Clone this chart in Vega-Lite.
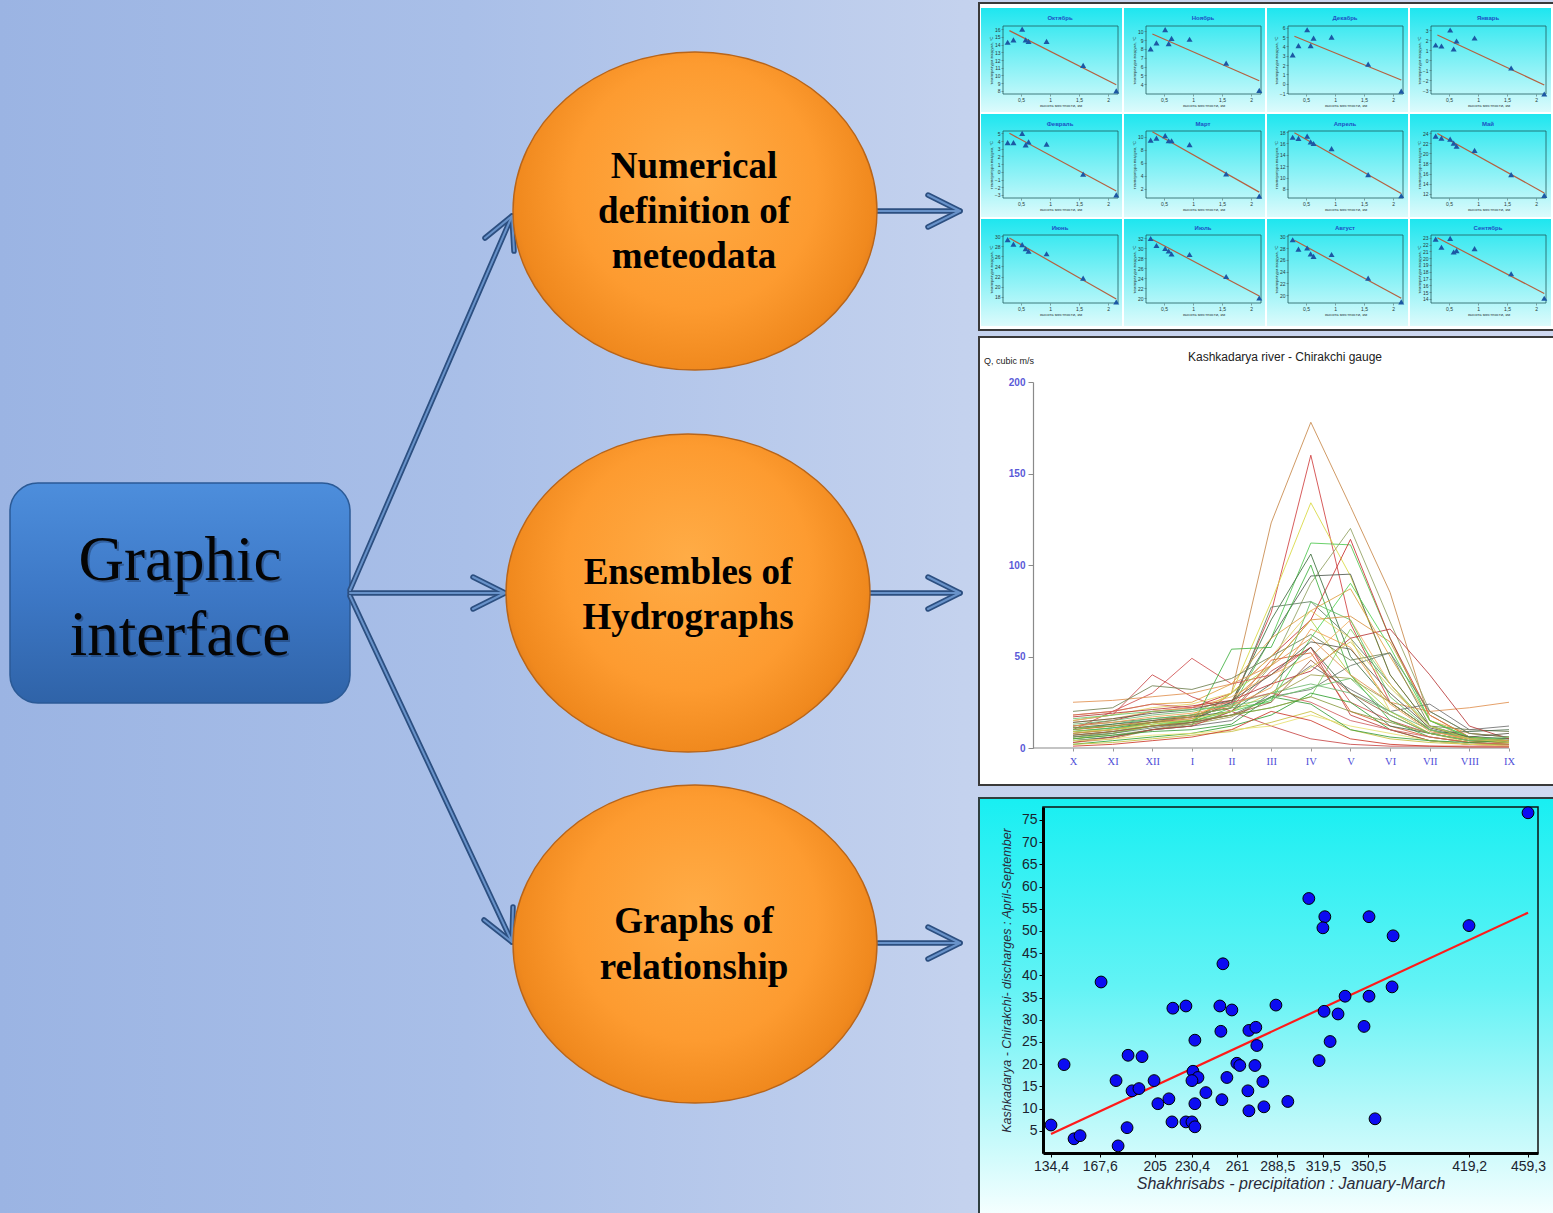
{
"$schema":"https://vega.github.io/schema/vega-lite/v6.json",
"width":1553,"height":1213,"autosize":"none","padding":0,"background":"#b8c9ec",
"config":{"view":{"stroke":null},
 "axis":{"labelFont":"Liberation Sans","labelFontSize":5,"labelColor":"#2a3a3a","labelPadding":1,"tickSize":2,"tickColor":"#4a6a6a","tickWidth":0.6,"domain":false,"grid":false,"titleFont":"Liberation Sans","titleFontSize":4.2,"titleFontWeight":"normal","titleColor":"#2a3a3a","titlePadding":1,"labelFlush":false,"labelOverlap":false}},
"resolve":{"scale":{"x":"independent","y":"independent","color":"independent"},"axis":{"x":"independent","y":"independent"}},
"datasets":{
"bg":[{"x":0,"x2":1553,"y":0,"y2":1213}],
"pw":[{"x":979,"x2":1556,"y":3,"y2":330},{"x":979,"x2":1556,"y":337,"y2":785}],
"ps":[{"x":979,"x2":1556,"y":798,"y2":1216}],
"cells":[{"x":981,"x2":1122,"y":8,"y2":112},{"x":1124,"x2":1265,"y":8,"y2":112},{"x":1267,"x2":1408,"y":8,"y2":112},{"x":1410,"x2":1551,"y":8,"y2":112},{"x":981,"x2":1122,"y":114,"y2":217},{"x":1124,"x2":1265,"y":114,"y2":217},{"x":1267,"x2":1408,"y":114,"y2":217},{"x":1410,"x2":1551,"y":114,"y2":217},{"x":981,"x2":1122,"y":219,"y2":326},{"x":1124,"x2":1265,"y":219,"y2":326},{"x":1267,"x2":1408,"y":219,"y2":326},{"x":1410,"x2":1551,"y":219,"y2":326}],
"frames":[{"x":1003,"x2":1118,"y":26,"y2":94},{"x":1146,"x2":1261,"y":26,"y2":94},{"x":1288,"x2":1403,"y":26,"y2":94},{"x":1431,"x2":1546,"y":26,"y2":94},{"x":1003,"x2":1118,"y":131,"y2":198},{"x":1146,"x2":1261,"y":131,"y2":198},{"x":1288,"x2":1403,"y":131,"y2":198},{"x":1431,"x2":1546,"y":131,"y2":198},{"x":1003,"x2":1118,"y":235,"y2":303},{"x":1146,"x2":1261,"y":235,"y2":303},{"x":1288,"x2":1403,"y":235,"y2":303},{"x":1431,"x2":1546,"y":235,"y2":303}],
"ctit":[{"t":"Октябрь","x":1060,"y":18},{"t":"Ноябрь","x":1203,"y":18},{"t":"Декабрь","x":1345,"y":18},{"t":"Январь","x":1488,"y":18},{"t":"Февраль","x":1060,"y":124},{"t":"Март","x":1203,"y":124},{"t":"Апрель","x":1345,"y":124},{"t":"Май","x":1488,"y":124},{"t":"Июнь","x":1060,"y":228},{"t":"Июль","x":1203,"y":228},{"t":"Август","x":1345,"y":228},{"t":"Сентябрь","x":1488,"y":228}],
"sframe":[{"x":1043,"x2":1538,"y":807,"y2":1153}],
"hline":[{"x":1033,"x2":1509,"y":748}],
"box":[{"x":10,"x2":350,"y":483,"y2":703}],
"boxt":[{"t":"Graphic","x":180,"y":580},{"t":"interface","x":180,"y":655}],
"ell":[{"x":695,"y":211},{"x":688,"y":593},{"x":695,"y":944}],
"ellt":[{"t":"Numerical","x":694,"y":167},{"t":"definition of","x":694,"y":212},{"t":"meteodata","x":694,"y":257},{"t":"Ensembles of","x":688,"y":573},{"t":"Hydrographs","x":688,"y":618},{"t":"Graphs of","x":694,"y":922},{"t":"relationship","x":694,"y":968}],
"arr":[{"g":"a","o":1,"x":350,"y":590},{"g":"a","o":2,"x":512,"y":216},{"g":"b","o":1,"x":350,"y":593},{"g":"b","o":2,"x":505,"y":593},{"g":"c","o":1,"x":350,"y":596},{"g":"c","o":2,"x":512,"y":942},{"g":"d","o":1,"x":877,"y":211},{"g":"d","o":2,"x":960,"y":211},{"g":"e","o":1,"x":870,"y":593},{"g":"e","o":2,"x":960,"y":593},{"g":"f","o":1,"x":878,"y":943},{"g":"f","o":2,"x":960,"y":943},
{"g":"ah","o":1,"x":485,"y":238},{"g":"ah","o":2,"x":512,"y":216},{"g":"ah","o":3,"x":514,"y":251},{"g":"bh","o":1,"x":473,"y":577},{"g":"bh","o":2,"x":505,"y":593},{"g":"bh","o":3,"x":473,"y":609},{"g":"ch","o":1,"x":484,"y":920},{"g":"ch","o":2,"x":512,"y":942},{"g":"ch","o":3,"x":513,"y":907},{"g":"dh","o":1,"x":928,"y":195},{"g":"dh","o":2,"x":960,"y":211},{"g":"dh","o":3,"x":928,"y":227},{"g":"eh","o":1,"x":928,"y":577},{"g":"eh","o":2,"x":960,"y":593},{"g":"eh","o":3,"x":928,"y":609},{"g":"fh","o":1,"x":928,"y":927},{"g":"fh","o":2,"x":960,"y":943},{"g":"fh","o":3,"x":928,"y":959}],
"htit":[{"t":"Kashkadarya river - Chirakchi gauge","x":1285,"y":357}],
"qlab":[{"t":"Q, cubic m/s","x":984,"y":361}],
"kg":[{"h":0.5},{"h":1},{"h":1.5},{"h":2}],
"hg":[{"m":"Oct","t":8},{"m":"Oct","t":9},{"m":"Oct","t":10},{"m":"Oct","t":11},{"m":"Oct","t":12},{"m":"Oct","t":13},{"m":"Oct","t":14},{"m":"Oct","t":15},{"m":"Oct","t":16},
{"m":"Nov","t":4},{"m":"Nov","t":5},{"m":"Nov","t":6},{"m":"Nov","t":7},{"m":"Nov","t":8},{"m":"Nov","t":9},{"m":"Nov","t":10},
{"m":"Dec","t":-1},{"m":"Dec","t":0},{"m":"Dec","t":1},{"m":"Dec","t":2},{"m":"Dec","t":3},{"m":"Dec","t":4},{"m":"Dec","t":5},{"m":"Dec","t":6},
{"m":"Jan","t":-3},{"m":"Jan","t":-2},{"m":"Jan","t":-1},{"m":"Jan","t":0},{"m":"Jan","t":1},{"m":"Jan","t":2},{"m":"Jan","t":3},
{"m":"Feb","t":-3},{"m":"Feb","t":-2},{"m":"Feb","t":-1},{"m":"Feb","t":0},{"m":"Feb","t":1},{"m":"Feb","t":2},{"m":"Feb","t":3},{"m":"Feb","t":4},{"m":"Feb","t":5},
{"m":"Mar","t":2},{"m":"Mar","t":4},{"m":"Mar","t":6},{"m":"Mar","t":8},{"m":"Mar","t":10},
{"m":"Apr","t":8},{"m":"Apr","t":10},{"m":"Apr","t":12},{"m":"Apr","t":14},{"m":"Apr","t":16},{"m":"Apr","t":18},
{"m":"May","t":12},{"m":"May","t":14},{"m":"May","t":16},{"m":"May","t":18},{"m":"May","t":20},{"m":"May","t":22},{"m":"May","t":24},
{"m":"Jun","t":18},{"m":"Jun","t":20},{"m":"Jun","t":22},{"m":"Jun","t":24},{"m":"Jun","t":26},{"m":"Jun","t":28},{"m":"Jun","t":30},
{"m":"Jul","t":20},{"m":"Jul","t":22},{"m":"Jul","t":24},{"m":"Jul","t":26},{"m":"Jul","t":28},{"m":"Jul","t":30},{"m":"Jul","t":32},
{"m":"Aug","t":20},{"m":"Aug","t":22},{"m":"Aug","t":24},{"m":"Aug","t":26},{"m":"Aug","t":28},{"m":"Aug","t":30},
{"m":"Sep","t":14},{"m":"Sep","t":15},{"m":"Sep","t":16},{"m":"Sep","t":17},{"m":"Sep","t":18},{"m":"Sep","t":19},{"m":"Sep","t":20},{"m":"Sep","t":21},{"m":"Sep","t":22},{"m":"Sep","t":23}],
"st":[
{"m":"Oct","h":0.27,"t":14.3},{"m":"Oct","h":0.37,"t":14.6},{"m":"Oct","h":0.52,"t":16.0},{"m":"Oct","h":0.58,"t":14.6},{"m":"Oct","h":0.63,"t":14.4},{"m":"Oct","h":0.94,"t":14.4},{"m":"Oct","h":1.57,"t":11.3},{"m":"Oct","h":2.14,"t":8.0},
{"m":"Nov","h":0.27,"t":8.0},{"m":"Nov","h":0.37,"t":8.7},{"m":"Nov","h":0.52,"t":10.2},{"m":"Nov","h":0.58,"t":8.6},{"m":"Nov","h":0.63,"t":9.2},{"m":"Nov","h":0.94,"t":9.1},{"m":"Nov","h":1.57,"t":6.4},{"m":"Nov","h":2.14,"t":3.3},
{"m":"Dec","h":0.27,"t":3.1},{"m":"Dec","h":0.37,"t":4.1},{"m":"Dec","h":0.52,"t":5.8},{"m":"Dec","h":0.58,"t":4.1},{"m":"Dec","h":0.63,"t":4.9},{"m":"Dec","h":0.94,"t":5.0},{"m":"Dec","h":1.57,"t":2.1},{"m":"Dec","h":2.14,"t":-0.8},
{"m":"Jan","h":0.27,"t":1.5},{"m":"Jan","h":0.37,"t":1.4},{"m":"Jan","h":0.52,"t":3.0},{"m":"Jan","h":0.58,"t":1.1},{"m":"Jan","h":0.63,"t":1.9},{"m":"Jan","h":0.94,"t":2.2},{"m":"Jan","h":1.57,"t":-0.8},{"m":"Jan","h":2.14,"t":-3.4},
{"m":"Feb","h":0.27,"t":3.8},{"m":"Feb","h":0.37,"t":3.8},{"m":"Feb","h":0.52,"t":5.0},{"m":"Feb","h":0.58,"t":3.5},{"m":"Feb","h":0.63,"t":3.9},{"m":"Feb","h":0.94,"t":3.6},{"m":"Feb","h":1.57,"t":-0.3},{"m":"Feb","h":2.14,"t":-3.0},
{"m":"Mar","h":0.27,"t":9.5},{"m":"Mar","h":0.37,"t":9.8},{"m":"Mar","h":0.52,"t":10.2},{"m":"Mar","h":0.58,"t":9.4},{"m":"Mar","h":0.63,"t":9.4},{"m":"Mar","h":0.94,"t":8.8},{"m":"Mar","h":1.57,"t":4.3},{"m":"Mar","h":2.14,"t":0.9},
{"m":"Apr","h":0.27,"t":17.1},{"m":"Apr","h":0.37,"t":16.9},{"m":"Apr","h":0.52,"t":17.3},{"m":"Apr","h":0.58,"t":16.3},{"m":"Apr","h":0.63,"t":16.0},{"m":"Apr","h":0.94,"t":15.1},{"m":"Apr","h":1.57,"t":10.5},{"m":"Apr","h":2.14,"t":6.8},
{"m":"May","h":0.27,"t":23.4},{"m":"May","h":0.37,"t":23.0},{"m":"May","h":0.52,"t":22.8},{"m":"May","h":0.58,"t":22.0},{"m":"May","h":0.63,"t":21.4},{"m":"May","h":0.94,"t":20.6},{"m":"May","h":1.57,"t":15.8},{"m":"May","h":2.14,"t":11.7},
{"m":"Jun","h":0.27,"t":29.3},{"m":"Jun","h":0.37,"t":28.4},{"m":"Jun","h":0.52,"t":28.3},{"m":"Jun","h":0.58,"t":27.5},{"m":"Jun","h":0.63,"t":27.0},{"m":"Jun","h":0.94,"t":26.5},{"m":"Jun","h":1.57,"t":21.7},{"m":"Jun","h":2.14,"t":17.0},
{"m":"Jul","h":0.27,"t":31.9},{"m":"Jul","h":0.37,"t":30.5},{"m":"Jul","h":0.52,"t":29.9},{"m":"Jul","h":0.58,"t":29.4},{"m":"Jul","h":0.63,"t":28.8},{"m":"Jul","h":0.94,"t":28.7},{"m":"Jul","h":1.57,"t":24.3},{"m":"Jul","h":2.14,"t":20.0},
{"m":"Aug","h":0.27,"t":29.4},{"m":"Aug","h":0.37,"t":27.8},{"m":"Aug","h":0.52,"t":28.0},{"m":"Aug","h":0.58,"t":27.0},{"m":"Aug","h":0.63,"t":26.6},{"m":"Aug","h":0.94,"t":26.9},{"m":"Aug","h":1.57,"t":22.9},{"m":"Aug","h":2.14,"t":18.9},
{"m":"Sep","h":0.27,"t":22.8},{"m":"Sep","h":0.37,"t":21.6},{"m":"Sep","h":0.52,"t":22.9},{"m":"Sep","h":0.58,"t":20.9},{"m":"Sep","h":0.63,"t":21.1},{"m":"Sep","h":0.94,"t":21.4},{"m":"Sep","h":1.57,"t":17.7},{"m":"Sep","h":2.14,"t":14.1}],
"tr":[{"m":"Oct","h":0.3,"t":15.8},{"m":"Oct","h":2.14,"t":8.8},{"m":"Nov","h":0.3,"t":9.7},{"m":"Nov","h":2.14,"t":4.4},{"m":"Dec","h":0.3,"t":5.1},{"m":"Dec","h":2.14,"t":0.4},{"m":"Jan","h":0.3,"t":2.5},{"m":"Jan","h":2.14,"t":-2.5},{"m":"Feb","h":0.3,"t":5.0},{"m":"Feb","h":2.14,"t":-2.5},{"m":"Mar","h":0.3,"t":10.8},{"m":"Mar","h":2.14,"t":1.5},{"m":"Apr","h":0.3,"t":17.9},{"m":"Apr","h":2.14,"t":7.2},{"m":"May","h":0.3,"t":23.9},{"m":"May","h":2.14,"t":12.2},{"m":"Jun","h":0.3,"t":29.6},{"m":"Jun","h":2.14,"t":17.6},{"m":"Jul","h":0.3,"t":31.7},{"m":"Jul","h":2.14,"t":20.4},{"m":"Aug","h":0.3,"t":29.3},{"m":"Aug","h":2.14,"t":19.5},{"m":"Sep","h":0.3,"t":23.0},{"m":"Sep","h":2.14,"t":14.8}],
"hy":[
{"s":"h01","X":3,"XI":5,"XII":10,"I":14,"II":30,"III":123,"IV":178,"V":132,"VI":85,"VII":15,"VIII":5,"IX":3},
{"s":"h02","X":8,"XI":10,"XII":14,"I":16,"II":24,"III":74,"IV":160,"V":68,"VI":25,"VII":10,"VIII":4,"IX":3},
{"s":"h03","X":10,"XI":12,"XII":14,"I":18,"II":30,"III":80,"IV":134,"V":94,"VI":40,"VII":12,"VIII":5,"IX":4},
{"s":"h04","X":6,"XI":8,"XII":12,"I":14,"II":22,"III":60,"IV":112,"V":111,"VI":60,"VII":15,"VIII":6,"IX":5},
{"s":"h05","X":5,"XI":7,"XII":10,"I":13,"II":20,"III":45,"IV":90,"V":120,"VI":69,"VII":20,"VIII":8,"IX":6},
{"s":"h06","X":12,"XI":15,"XII":20,"I":22,"II":30,"III":50,"IV":70,"V":114,"VI":60,"VII":18,"VIII":6,"IX":4},
{"s":"h07","X":7,"XI":9,"XII":12,"I":15,"II":25,"III":70,"IV":106,"V":50,"VI":25,"VII":10,"VIII":5,"IX":4},
{"s":"h08","X":9,"XI":11,"XII":14,"I":17,"II":25,"III":60,"IV":94,"V":95,"VI":40,"VII":12,"VIII":6,"IX":5},
{"s":"h09","X":12,"XI":14,"XII":16,"I":18,"II":22,"III":77,"IV":80,"V":60,"VI":35,"VII":10,"VIII":6,"IX":5},
{"s":"h10","X":18,"XI":20,"XII":24,"I":25,"II":35,"III":60,"IV":75,"V":87,"VI":50,"VII":15,"VIII":8,"IX":6},
{"s":"h11","X":10,"XI":20,"XII":30,"I":49,"II":35,"III":40,"IV":55,"V":25,"VI":15,"VII":8,"VIII":4,"IX":3},
{"s":"h12","X":15,"XI":18,"XII":40,"I":28,"II":20,"III":12,"IV":5,"V":2,"VI":1,"VII":1,"VIII":1,"IX":1},
{"s":"h13","X":5,"XI":8,"XII":12,"I":15,"II":30,"III":45,"IV":70,"V":40,"VI":20,"VII":8,"VIII":4,"IX":3},
{"s":"h14","X":4,"XI":6,"XII":10,"I":12,"II":54,"III":55,"IV":100,"V":40,"VI":15,"VII":6,"VIII":3,"IX":2},
{"s":"h15","X":8,"XI":10,"XII":12,"I":14,"II":18,"III":22,"IV":28,"V":65,"VI":35,"VII":12,"VIII":6,"IX":4},
{"s":"h16","X":25,"XI":26,"XII":28,"I":30,"II":35,"III":45,"IV":60,"V":40,"VI":25,"VII":20,"VIII":22,"IX":25},
{"s":"h17","X":20,"XI":22,"XII":34,"I":32,"II":38,"III":50,"IV":62,"V":48,"VI":52,"VII":12,"VIII":10,"IX":9},
{"s":"h18","X":4,"XI":6,"XII":10,"I":12,"II":15,"III":30,"IV":45,"V":32,"VI":20,"VII":24,"VIII":10,"IX":12},
{"s":"h19","X":15,"XI":18,"XII":22,"I":24,"II":30,"III":50,"IV":75,"V":60,"VI":20,"VII":8,"VIII":3,"IX":2},
{"s":"h20","X":10,"XI":12,"XII":15,"I":18,"II":22,"III":48,"IV":52,"V":20,"VI":12,"VII":6,"VIII":3,"IX":2},
{"s":"h21","X":2,"XI":4,"XII":6,"I":8,"II":12,"III":18,"IV":30,"V":25,"VI":10,"VII":4,"VIII":2,"IX":2},
{"s":"h22","X":6,"XI":9,"XII":12,"I":13,"II":17,"III":28,"IV":40,"V":38,"VI":25,"VII":10,"VIII":5,"IX":3},
{"s":"h23","X":3,"XI":6,"XII":10,"I":12,"II":20,"III":42,"IV":55,"V":18,"VI":10,"VII":4,"VIII":2,"IX":1},
{"s":"h24","X":14,"XI":16,"XII":20,"I":22,"II":28,"III":40,"IV":50,"V":70,"VI":35,"VII":10,"VIII":4,"IX":3},
{"s":"h25","X":10,"XI":13,"XII":16,"I":18,"II":22,"III":25,"IV":80,"V":70,"VI":28,"VII":10,"VIII":5,"IX":4},
{"s":"h26","X":11,"XI":13,"XII":15,"I":17,"II":20,"III":35,"IV":55,"V":30,"VI":12,"VII":8,"VIII":9,"IX":10},
{"s":"h27","X":2,"XI":3,"XII":5,"I":7,"II":9,"III":14,"IV":20,"V":10,"VI":5,"VII":3,"VIII":2,"IX":2},
{"s":"h28","X":17,"XI":19,"XII":21,"I":23,"II":26,"III":35,"IV":42,"V":60,"VI":65,"VII":40,"VIII":12,"IX":5},
{"s":"h29","X":13,"XI":15,"XII":18,"I":20,"II":24,"III":30,"IV":35,"V":30,"VI":20,"VII":10,"VIII":5,"IX":3},
{"s":"h30","X":8,"XI":10,"XII":14,"I":17,"II":26,"III":45,"IV":70,"V":72,"VI":58,"VII":18,"VIII":6,"IX":4},
{"s":"h31","X":6,"XI":8,"XII":11,"I":14,"II":18,"III":28,"IV":32,"V":45,"VI":52,"VII":20,"VIII":8,"IX":6},
{"s":"h32","X":4,"XI":5,"XII":7,"I":8,"II":10,"III":12,"IV":18,"V":12,"VI":8,"VII":4,"VIII":2,"IX":1},
{"s":"h33","X":9,"XI":11,"XII":13,"I":15,"II":20,"III":26,"IV":60,"V":90,"VI":55,"VII":15,"VIII":6,"IX":4},
{"s":"h34","X":18,"XI":20,"XII":24,"I":22,"II":25,"III":30,"IV":25,"V":15,"VI":10,"VII":6,"VIII":3,"IX":2},
{"s":"h35","X":7,"XI":9,"XII":12,"I":14,"II":18,"III":25,"IV":48,"V":30,"VI":18,"VII":8,"VIII":4,"IX":3},
{"s":"h36","X":11,"XI":12,"XII":14,"I":15,"II":18,"III":22,"IV":28,"V":20,"VI":14,"VII":8,"VIII":4,"IX":3},
{"s":"h37","X":5,"XI":7,"XII":9,"I":10,"II":13,"III":28,"IV":24,"V":10,"VI":6,"VII":4,"VIII":3,"IX":4},
{"s":"h38","X":12,"XI":14,"XII":17,"I":19,"II":23,"III":33,"IV":65,"V":55,"VI":24,"VII":9,"VIII":5,"IX":4},
{"s":"h39","X":14,"XI":16,"XII":19,"I":21,"II":26,"III":40,"IV":58,"V":54,"VI":30,"VII":11,"VIII":6,"IX":8},
{"s":"h40","X":9,"XI":10,"XII":13,"I":16,"II":20,"III":30,"IV":44,"V":58,"VI":33,"VII":12,"VIII":5,"IX":3},
{"s":"h41","X":1,"XI":2,"XII":4,"I":6,"II":10,"III":20,"IV":15,"V":5,"VI":2,"VII":1,"VIII":0.5,"IX":0.5},
{"s":"h42","X":16,"XI":18,"XII":20,"I":21,"II":23,"III":27,"IV":33,"V":38,"VI":18,"VII":8,"VIII":4,"IX":6}],
"sc":[{"p":134.4,"q":6.3},{"p":143.3,"q":19.9},{"p":150.1,"q":3.2},{"p":154.2,"q":3.9},{"p":168.5,"q":38.5},{"p":178.7,"q":16.3},{"p":186.2,"q":5.7},{"p":180.1,"q":1.6},{"p":186.9,"q":22.0},{"p":189.6,"q":14.0},{"p":194.3,"q":14.5},{"p":196.4,"q":21.7},{"p":204.6,"q":16.3},{"p":207.2,"q":11.1},{"p":214.7,"q":12.2},{"p":217.4,"q":32.6},{"p":216.8,"q":7.0},{"p":226.3,"q":33.1},{"p":226.3,"q":7.0},{"p":230.4,"q":7.0},{"p":232.4,"q":5.9},{"p":232.4,"q":25.4},{"p":231.1,"q":18.4},{"p":234.5,"q":17.0},{"p":230.4,"q":16.3},{"p":232.4,"q":11.1},{"p":239.9,"q":13.6},{"p":249.4,"q":33.1},{"p":250.1,"q":27.4},{"p":250.8,"q":12.0},{"p":251.5,"q":42.6},{"p":254.2,"q":17.0},{"p":257.6,"q":32.2},{"p":261.0,"q":20.2},{"p":263.0,"q":19.7},{"p":268.5,"q":14.0},{"p":269.2,"q":9.5},{"p":269.2,"q":27.6},{"p":273.9,"q":28.3},{"p":274.6,"q":24.2},{"p":273.3,"q":19.7},{"p":278.7,"q":16.1},{"p":279.4,"q":10.4},{"p":287.6,"q":33.3},{"p":295.7,"q":11.6},{"p":310.0,"q":57.3},{"p":320.9,"q":53.2},{"p":319.6,"q":50.7},{"p":351.0,"q":53.2},{"p":367.4,"q":48.9},{"p":419.1,"q":51.2},{"p":459.3,"q":76.6},{"p":334.7,"q":35.3},{"p":351.0,"q":35.3},{"p":366.7,"q":37.4},{"p":320.4,"q":31.9},{"p":329.9,"q":31.3},{"p":347.6,"q":28.5},{"p":324.5,"q":25.1},{"p":317.0,"q":20.8},{"p":355.1,"q":7.7}],
"reg":[{"p":134.4,"q":4.3},{"p":459.3,"q":54.1}],
"scv":[{"p":134.4},{"p":167.6},{"p":205},{"p":230.4},{"p":261},{"p":288.5},{"p":319.5},{"p":350.5},{"p":419.2},{"p":459.3}],
"sch":[{"q":5},{"q":10},{"q":15},{"q":20},{"q":25},{"q":30},{"q":35},{"q":40},{"q":45},{"q":50},{"q":55},{"q":60},{"q":65},{"q":70},{"q":75}]
},
"layer":[
{"encoding":{"x":{"field":"x","type":"quantitative","scale":{"domain":[0,1553],"range":[0,1553],"nice":false,"zero":false},"axis":null},"y":{"field":"y","type":"quantitative","scale":{"domain":[0,1213],"range":[0,1213],"nice":false,"zero":false},"axis":null}},
 "layer":[
 {"data":{"name":"bg"},"mark":{"type":"rect","fill":{"gradient":"linear","x1":0,"y1":0,"x2":1,"y2":0,"stops":[{"offset":0,"color":"#9bb4e3"},{"offset":0.3,"color":"#a9bfe8"},{"offset":0.62,"color":"#c4d2ee"},{"offset":1,"color":"#cfd9f1"}]}},
  "encoding":{"x2":{"field":"x2"},"y2":{"field":"y2"}}},
 {"data":{"name":"pw"},"mark":{"type":"rect","fill":"#ffffff","stroke":"#3a3a3a","strokeWidth":2},
  "encoding":{"x2":{"field":"x2"},"y2":{"field":"y2"}}},
 {"data":{"name":"ps"},"mark":{"type":"rect","fill":{"gradient":"linear","x1":0,"y1":0,"x2":0,"y2":1,"stops":[{"offset":0,"color":"#18eff2"},{"offset":0.45,"color":"#62f3f5"},{"offset":0.78,"color":"#bdf9fa"},{"offset":1,"color":"#f6ffff"}]},"stroke":"#2f3f3f","strokeWidth":2},
  "encoding":{"x2":{"field":"x2"},"y2":{"field":"y2"}}},
 {"data":{"name":"cells"},"mark":{"type":"rect","fill":{"gradient":"linear","x1":0,"y1":0,"x2":0,"y2":1,"stops":[{"offset":0,"color":"#1ee6ef"},{"offset":0.35,"color":"#62edf3"},{"offset":1,"color":"#dcfbfc"}]}},
  "encoding":{"x2":{"field":"x2"},"y2":{"field":"y2"}}},
 {"data":{"name":"frames"},"mark":{"type":"rect","filled":false,"color":"#1e5a5e","strokeWidth":0.8,"opacity":1},
  "encoding":{"x2":{"field":"x2"},"y2":{"field":"y2"}}},
 {"data":{"name":"sframe"},"mark":{"type":"rect","filled":false,"color":"#111111","strokeWidth":1.5,"opacity":1},
  "encoding":{"x2":{"field":"x2"},"y2":{"field":"y2"}}},
 {"data":{"name":"hline"},"mark":{"type":"rule","color":"#8a8a8a","strokeWidth":1.2},
  "encoding":{"x2":{"field":"x2"}}},
 {"data":{"name":"box"},"mark":{"type":"rect","cornerRadius":28,"fill":{"gradient":"linear","x1":0,"y1":0,"x2":0,"y2":1,"stops":[{"offset":0,"color":"#4d8edc"},{"offset":0.5,"color":"#3d78c6"},{"offset":1,"color":"#2f63a8"}]},"stroke":"#2b5a96","strokeWidth":1.5},
  "encoding":{"x2":{"field":"x2"},"y2":{"field":"y2"}}},
 {"data":{"name":"arr"},"mark":{"type":"line","color":"#2c4f80","strokeWidth":5.5,"strokeCap":"round","strokeJoin":"round"},
  "encoding":{"detail":{"field":"g"},"order":{"field":"o"}}},
 {"data":{"name":"arr"},"mark":{"type":"line","color":"#6892c9","strokeWidth":2,"strokeCap":"round","strokeJoin":"round"},
  "encoding":{"detail":{"field":"g"},"order":{"field":"o"}}},
 {"data":{"name":"boxt"},"mark":{"type":"text","font":"Liberation Serif","fontSize":63,"align":"center","baseline":"alphabetic","color":"#1a3560","opacity":0.45,"dx":2,"dy":2},
  "encoding":{"text":{"field":"t"}}},
 {"data":{"name":"boxt"},"mark":{"type":"text","font":"Liberation Serif","fontSize":63,"align":"center","baseline":"alphabetic","color":"#050505"},
  "encoding":{"text":{"field":"t"}}},
 {"data":{"name":"ell"},"mark":{"type":"point","shape":"M -1 0 A 1 0.874 0 1 1 1 0 A 1 0.874 0 1 1 -1 0 Z","size":132496,"filled":true,"fill":{"gradient":"radial","x1":0.5,"y1":0.4,"r1":0,"x2":0.5,"y2":0.45,"r2":0.56,"stops":[{"offset":0,"color":"#ffac46"},{"offset":0.6,"color":"#fd9b30"},{"offset":0.88,"color":"#f0891e"},{"offset":1,"color":"#d9761a"}]},"stroke":"#b8651a","strokeWidth":1.4,"opacity":1}},
 {"data":{"name":"ellt"},"mark":{"type":"text","font":"Liberation Serif","fontSize":37,"fontWeight":"bold","align":"center","baseline":"middle","color":"#000000"},
  "encoding":{"text":{"field":"t"}}},
 {"data":{"name":"ctit"},"mark":{"type":"text","font":"Liberation Sans","fontSize":6,"fontWeight":"bold","align":"center","baseline":"middle","color":"#1d4fc4"},
  "encoding":{"text":{"field":"t"}}},
 {"data":{"name":"htit"},"mark":{"type":"text","font":"Liberation Sans","fontSize":12,"align":"center","baseline":"middle","color":"#222222"},
  "encoding":{"text":{"field":"t"}}},
 {"data":{"name":"qlab"},"mark":{"type":"text","font":"Liberation Sans","fontSize":9,"align":"left","baseline":"middle","color":"#222222"},
  "encoding":{"text":{"field":"t"}}}
]},

{"encoding":{"x":{"field":"h","type":"quantitative","scale":{"domain":[0.19,2.17],"range":[1003,1118],"nice":false,"zero":false},"axis":{"orient":"bottom","offset":-1119,"values":[0.5,1,1.5,2],"labelExpr":"replace(toString(datum.value),'.',',')","title":"высота местности, км","zindex":1}},"y":{"field":"t","type":"quantitative","scale":{"domain":[7.6,16.4],"range":[94,26],"nice":false,"zero":false},"axis":{"orient":"left","offset":-1003,"values":[8,9,10,11,12,13,14,15,16],"title":"температура воздуха, °С","zindex":1}}},
 "layer":[{"data":{"name":"kg"},"mark":{"type":"rule","color":"#7fa9ad","strokeDash":[1,1.5],"strokeWidth":0.6},"encoding":{"y":{"datum":7.6},"y2":{"datum":16.4}}},{"data":{"name":"hg"},"transform":[{"filter":"datum.m=='Oct'"}],"mark":{"type":"rule","color":"#7fa9ad","strokeDash":[1,1.5],"strokeWidth":0.6},"encoding":{"x":{"datum":0.19},"x2":{"datum":2.17}}},{"data":{"name":"tr"},"transform":[{"filter":"datum.m=='Oct'"}],"mark":{"type":"line","color":"#b5603f","strokeWidth":1.2}},{"data":{"name":"st"},"transform":[{"filter":"datum.m=='Oct'"}],"mark":{"type":"point","shape":"triangle-up","filled":true,"color":"#1c58a4","size":36,"opacity":1}}]},

{"encoding":{"x":{"field":"h","type":"quantitative","scale":{"domain":[0.19,2.17],"range":[1146,1261],"nice":false,"zero":false},"axis":{"orient":"bottom","offset":-1119,"values":[0.5,1,1.5,2],"labelExpr":"replace(toString(datum.value),'.',',')","title":"высота местности, км","zindex":1}},"y":{"field":"t","type":"quantitative","scale":{"domain":[2.9,10.6],"range":[94,26],"nice":false,"zero":false},"axis":{"orient":"left","offset":-1146,"values":[4,5,6,7,8,9,10],"title":"температура воздуха, °С","zindex":1}}},
 "layer":[{"data":{"name":"kg"},"mark":{"type":"rule","color":"#7fa9ad","strokeDash":[1,1.5],"strokeWidth":0.6},"encoding":{"y":{"datum":2.9},"y2":{"datum":10.6}}},{"data":{"name":"hg"},"transform":[{"filter":"datum.m=='Nov'"}],"mark":{"type":"rule","color":"#7fa9ad","strokeDash":[1,1.5],"strokeWidth":0.6},"encoding":{"x":{"datum":0.19},"x2":{"datum":2.17}}},{"data":{"name":"tr"},"transform":[{"filter":"datum.m=='Nov'"}],"mark":{"type":"line","color":"#b5603f","strokeWidth":1.2}},{"data":{"name":"st"},"transform":[{"filter":"datum.m=='Nov'"}],"mark":{"type":"point","shape":"triangle-up","filled":true,"color":"#1c58a4","size":36,"opacity":1}}]},

{"encoding":{"x":{"field":"h","type":"quantitative","scale":{"domain":[0.19,2.17],"range":[1288,1403],"nice":false,"zero":false},"axis":{"orient":"bottom","offset":-1119,"values":[0.5,1,1.5,2],"labelExpr":"replace(toString(datum.value),'.',',')","title":"высота местности, км","zindex":1}},"y":{"field":"t","type":"quantitative","scale":{"domain":[-1.1,6.2],"range":[94,26],"nice":false,"zero":false},"axis":{"orient":"left","offset":-1288,"values":[-1,0,1,2,3,4,5,6],"title":"температура воздуха, °С","zindex":1}}},
 "layer":[{"data":{"name":"kg"},"mark":{"type":"rule","color":"#7fa9ad","strokeDash":[1,1.5],"strokeWidth":0.6},"encoding":{"y":{"datum":-1.1},"y2":{"datum":6.2}}},{"data":{"name":"hg"},"transform":[{"filter":"datum.m=='Dec'"}],"mark":{"type":"rule","color":"#7fa9ad","strokeDash":[1,1.5],"strokeWidth":0.6},"encoding":{"x":{"datum":0.19},"x2":{"datum":2.17}}},{"data":{"name":"tr"},"transform":[{"filter":"datum.m=='Dec'"}],"mark":{"type":"line","color":"#b5603f","strokeWidth":1.2}},{"data":{"name":"st"},"transform":[{"filter":"datum.m=='Dec'"}],"mark":{"type":"point","shape":"triangle-up","filled":true,"color":"#1c58a4","size":36,"opacity":1}}]},

{"encoding":{"x":{"field":"h","type":"quantitative","scale":{"domain":[0.19,2.17],"range":[1431,1546],"nice":false,"zero":false},"axis":{"orient":"bottom","offset":-1119,"values":[0.5,1,1.5,2],"labelExpr":"replace(toString(datum.value),'.',',')","title":"высота местности, км","zindex":1}},"y":{"field":"t","type":"quantitative","scale":{"domain":[-3.4,3.4],"range":[94,26],"nice":false,"zero":false},"axis":{"orient":"left","offset":-1431,"values":[-3,-2,-1,0,1,2,3],"title":"температура воздуха, °С","zindex":1}}},
 "layer":[{"data":{"name":"kg"},"mark":{"type":"rule","color":"#7fa9ad","strokeDash":[1,1.5],"strokeWidth":0.6},"encoding":{"y":{"datum":-3.4},"y2":{"datum":3.4}}},{"data":{"name":"hg"},"transform":[{"filter":"datum.m=='Jan'"}],"mark":{"type":"rule","color":"#7fa9ad","strokeDash":[1,1.5],"strokeWidth":0.6},"encoding":{"x":{"datum":0.19},"x2":{"datum":2.17}}},{"data":{"name":"tr"},"transform":[{"filter":"datum.m=='Jan'"}],"mark":{"type":"line","color":"#b5603f","strokeWidth":1.2}},{"data":{"name":"st"},"transform":[{"filter":"datum.m=='Jan'"}],"mark":{"type":"point","shape":"triangle-up","filled":true,"color":"#1c58a4","size":36,"opacity":1}}]},

{"encoding":{"x":{"field":"h","type":"quantitative","scale":{"domain":[0.19,2.17],"range":[1003,1118],"nice":false,"zero":false},"axis":{"orient":"bottom","offset":-1015,"values":[0.5,1,1.5,2],"labelExpr":"replace(toString(datum.value),'.',',')","title":"высота местности, км","zindex":1}},"y":{"field":"t","type":"quantitative","scale":{"domain":[-3.4,5.3],"range":[198,131],"nice":false,"zero":false},"axis":{"orient":"left","offset":-1003,"values":[-3,-2,-1,0,1,2,3,4,5],"title":"температура воздуха, °С","zindex":1}}},
 "layer":[{"data":{"name":"kg"},"mark":{"type":"rule","color":"#7fa9ad","strokeDash":[1,1.5],"strokeWidth":0.6},"encoding":{"y":{"datum":-3.4},"y2":{"datum":5.3}}},{"data":{"name":"hg"},"transform":[{"filter":"datum.m=='Feb'"}],"mark":{"type":"rule","color":"#7fa9ad","strokeDash":[1,1.5],"strokeWidth":0.6},"encoding":{"x":{"datum":0.19},"x2":{"datum":2.17}}},{"data":{"name":"tr"},"transform":[{"filter":"datum.m=='Feb'"}],"mark":{"type":"line","color":"#b5603f","strokeWidth":1.2}},{"data":{"name":"st"},"transform":[{"filter":"datum.m=='Feb'"}],"mark":{"type":"point","shape":"triangle-up","filled":true,"color":"#1c58a4","size":36,"opacity":1}}]},

{"encoding":{"x":{"field":"h","type":"quantitative","scale":{"domain":[0.19,2.17],"range":[1146,1261],"nice":false,"zero":false},"axis":{"orient":"bottom","offset":-1015,"values":[0.5,1,1.5,2],"labelExpr":"replace(toString(datum.value),'.',',')","title":"высота местности, км","zindex":1}},"y":{"field":"t","type":"quantitative","scale":{"domain":[0.6,10.9],"range":[198,131],"nice":false,"zero":false},"axis":{"orient":"left","offset":-1146,"values":[2,4,6,8,10],"title":"температура воздуха, °С","zindex":1}}},
 "layer":[{"data":{"name":"kg"},"mark":{"type":"rule","color":"#7fa9ad","strokeDash":[1,1.5],"strokeWidth":0.6},"encoding":{"y":{"datum":0.6},"y2":{"datum":10.9}}},{"data":{"name":"hg"},"transform":[{"filter":"datum.m=='Mar'"}],"mark":{"type":"rule","color":"#7fa9ad","strokeDash":[1,1.5],"strokeWidth":0.6},"encoding":{"x":{"datum":0.19},"x2":{"datum":2.17}}},{"data":{"name":"tr"},"transform":[{"filter":"datum.m=='Mar'"}],"mark":{"type":"line","color":"#b5603f","strokeWidth":1.2}},{"data":{"name":"st"},"transform":[{"filter":"datum.m=='Mar'"}],"mark":{"type":"point","shape":"triangle-up","filled":true,"color":"#1c58a4","size":36,"opacity":1}}]},

{"encoding":{"x":{"field":"h","type":"quantitative","scale":{"domain":[0.19,2.17],"range":[1288,1403],"nice":false,"zero":false},"axis":{"orient":"bottom","offset":-1015,"values":[0.5,1,1.5,2],"labelExpr":"replace(toString(datum.value),'.',',')","title":"высота местности, км","zindex":1}},"y":{"field":"t","type":"quantitative","scale":{"domain":[6.4,18.2],"range":[198,131],"nice":false,"zero":false},"axis":{"orient":"left","offset":-1288,"values":[8,10,12,14,16,18],"title":"температура воздуха, °С","zindex":1}}},
 "layer":[{"data":{"name":"kg"},"mark":{"type":"rule","color":"#7fa9ad","strokeDash":[1,1.5],"strokeWidth":0.6},"encoding":{"y":{"datum":6.4},"y2":{"datum":18.2}}},{"data":{"name":"hg"},"transform":[{"filter":"datum.m=='Apr'"}],"mark":{"type":"rule","color":"#7fa9ad","strokeDash":[1,1.5],"strokeWidth":0.6},"encoding":{"x":{"datum":0.19},"x2":{"datum":2.17}}},{"data":{"name":"tr"},"transform":[{"filter":"datum.m=='Apr'"}],"mark":{"type":"line","color":"#b5603f","strokeWidth":1.2}},{"data":{"name":"st"},"transform":[{"filter":"datum.m=='Apr'"}],"mark":{"type":"point","shape":"triangle-up","filled":true,"color":"#1c58a4","size":36,"opacity":1}}]},

{"encoding":{"x":{"field":"h","type":"quantitative","scale":{"domain":[0.19,2.17],"range":[1431,1546],"nice":false,"zero":false},"axis":{"orient":"bottom","offset":-1015,"values":[0.5,1,1.5,2],"labelExpr":"replace(toString(datum.value),'.',',')","title":"высота местности, км","zindex":1}},"y":{"field":"t","type":"quantitative","scale":{"domain":[11.2,24.4],"range":[198,131],"nice":false,"zero":false},"axis":{"orient":"left","offset":-1431,"values":[12,14,16,18,20,22,24],"title":"температура воздуха, °С","zindex":1}}},
 "layer":[{"data":{"name":"kg"},"mark":{"type":"rule","color":"#7fa9ad","strokeDash":[1,1.5],"strokeWidth":0.6},"encoding":{"y":{"datum":11.2},"y2":{"datum":24.4}}},{"data":{"name":"hg"},"transform":[{"filter":"datum.m=='May'"}],"mark":{"type":"rule","color":"#7fa9ad","strokeDash":[1,1.5],"strokeWidth":0.6},"encoding":{"x":{"datum":0.19},"x2":{"datum":2.17}}},{"data":{"name":"tr"},"transform":[{"filter":"datum.m=='May'"}],"mark":{"type":"line","color":"#b5603f","strokeWidth":1.2}},{"data":{"name":"st"},"transform":[{"filter":"datum.m=='May'"}],"mark":{"type":"point","shape":"triangle-up","filled":true,"color":"#1c58a4","size":36,"opacity":1}}]},

{"encoding":{"x":{"field":"h","type":"quantitative","scale":{"domain":[0.19,2.17],"range":[1003,1118],"nice":false,"zero":false},"axis":{"orient":"bottom","offset":-910,"values":[0.5,1,1.5,2],"labelExpr":"replace(toString(datum.value),'.',',')","title":"высота местности, км","zindex":1}},"y":{"field":"t","type":"quantitative","scale":{"domain":[16.8,30.2],"range":[303,235],"nice":false,"zero":false},"axis":{"orient":"left","offset":-1003,"values":[18,20,22,24,26,28,30],"title":"температура воздуха, °С","zindex":1}}},
 "layer":[{"data":{"name":"kg"},"mark":{"type":"rule","color":"#7fa9ad","strokeDash":[1,1.5],"strokeWidth":0.6},"encoding":{"y":{"datum":16.8},"y2":{"datum":30.2}}},{"data":{"name":"hg"},"transform":[{"filter":"datum.m=='Jun'"}],"mark":{"type":"rule","color":"#7fa9ad","strokeDash":[1,1.5],"strokeWidth":0.6},"encoding":{"x":{"datum":0.19},"x2":{"datum":2.17}}},{"data":{"name":"tr"},"transform":[{"filter":"datum.m=='Jun'"}],"mark":{"type":"line","color":"#b5603f","strokeWidth":1.2}},{"data":{"name":"st"},"transform":[{"filter":"datum.m=='Jun'"}],"mark":{"type":"point","shape":"triangle-up","filled":true,"color":"#1c58a4","size":36,"opacity":1}}]},

{"encoding":{"x":{"field":"h","type":"quantitative","scale":{"domain":[0.19,2.17],"range":[1146,1261],"nice":false,"zero":false},"axis":{"orient":"bottom","offset":-910,"values":[0.5,1,1.5,2],"labelExpr":"replace(toString(datum.value),'.',',')","title":"высота местности, км","zindex":1}},"y":{"field":"t","type":"quantitative","scale":{"domain":[19,32.6],"range":[303,235],"nice":false,"zero":false},"axis":{"orient":"left","offset":-1146,"values":[20,22,24,26,28,30,32],"title":"температура воздуха, °С","zindex":1}}},
 "layer":[{"data":{"name":"kg"},"mark":{"type":"rule","color":"#7fa9ad","strokeDash":[1,1.5],"strokeWidth":0.6},"encoding":{"y":{"datum":19},"y2":{"datum":32.6}}},{"data":{"name":"hg"},"transform":[{"filter":"datum.m=='Jul'"}],"mark":{"type":"rule","color":"#7fa9ad","strokeDash":[1,1.5],"strokeWidth":0.6},"encoding":{"x":{"datum":0.19},"x2":{"datum":2.17}}},{"data":{"name":"tr"},"transform":[{"filter":"datum.m=='Jul'"}],"mark":{"type":"line","color":"#b5603f","strokeWidth":1.2}},{"data":{"name":"st"},"transform":[{"filter":"datum.m=='Jul'"}],"mark":{"type":"point","shape":"triangle-up","filled":true,"color":"#1c58a4","size":36,"opacity":1}}]},

{"encoding":{"x":{"field":"h","type":"quantitative","scale":{"domain":[0.19,2.17],"range":[1288,1403],"nice":false,"zero":false},"axis":{"orient":"bottom","offset":-910,"values":[0.5,1,1.5,2],"labelExpr":"replace(toString(datum.value),'.',',')","title":"высота местности, км","zindex":1}},"y":{"field":"t","type":"quantitative","scale":{"domain":[18.7,30.2],"range":[303,235],"nice":false,"zero":false},"axis":{"orient":"left","offset":-1288,"values":[20,22,24,26,28,30],"title":"температура воздуха, °С","zindex":1}}},
 "layer":[{"data":{"name":"kg"},"mark":{"type":"rule","color":"#7fa9ad","strokeDash":[1,1.5],"strokeWidth":0.6},"encoding":{"y":{"datum":18.7},"y2":{"datum":30.2}}},{"data":{"name":"hg"},"transform":[{"filter":"datum.m=='Aug'"}],"mark":{"type":"rule","color":"#7fa9ad","strokeDash":[1,1.5],"strokeWidth":0.6},"encoding":{"x":{"datum":0.19},"x2":{"datum":2.17}}},{"data":{"name":"tr"},"transform":[{"filter":"datum.m=='Aug'"}],"mark":{"type":"line","color":"#b5603f","strokeWidth":1.2}},{"data":{"name":"st"},"transform":[{"filter":"datum.m=='Aug'"}],"mark":{"type":"point","shape":"triangle-up","filled":true,"color":"#1c58a4","size":36,"opacity":1}}]},

{"encoding":{"x":{"field":"h","type":"quantitative","scale":{"domain":[0.19,2.17],"range":[1431,1546],"nice":false,"zero":false},"axis":{"orient":"bottom","offset":-910,"values":[0.5,1,1.5,2],"labelExpr":"replace(toString(datum.value),'.',',')","title":"высота местности, км","zindex":1}},"y":{"field":"t","type":"quantitative","scale":{"domain":[13.4,23.4],"range":[303,235],"nice":false,"zero":false},"axis":{"orient":"left","offset":-1431,"values":[14,15,16,17,18,19,20,21,22,23],"title":"температура воздуха, °С","zindex":1}}},
 "layer":[{"data":{"name":"kg"},"mark":{"type":"rule","color":"#7fa9ad","strokeDash":[1,1.5],"strokeWidth":0.6},"encoding":{"y":{"datum":13.4},"y2":{"datum":23.4}}},{"data":{"name":"hg"},"transform":[{"filter":"datum.m=='Sep'"}],"mark":{"type":"rule","color":"#7fa9ad","strokeDash":[1,1.5],"strokeWidth":0.6},"encoding":{"x":{"datum":0.19},"x2":{"datum":2.17}}},{"data":{"name":"tr"},"transform":[{"filter":"datum.m=='Sep'"}],"mark":{"type":"line","color":"#b5603f","strokeWidth":1.2}},{"data":{"name":"st"},"transform":[{"filter":"datum.m=='Sep'"}],"mark":{"type":"point","shape":"triangle-up","filled":true,"color":"#1c58a4","size":36,"opacity":1}}]},

{"data":{"name":"hy"},
 "transform":[{"fold":["X","XI","XII","I","II","III","IV","V","VI","VII","VIII","IX"],"as":["mo","q"]}],
 "mark":{"type":"line","strokeWidth":1,"opacity":0.85},
 "encoding":{
  "x":{"field":"mo","type":"ordinal","sort":["X","XI","XII","I","II","III","IV","V","VI","VII","VIII","IX"],"scale":{"type":"point","range":[1073,1509],"padding":0},"axis":{"orient":"bottom","offset":-465,"title":null,"domain":false,"labelAngle":0,"labelFont":"Liberation Serif","labelFontSize":10.5,"labelColor":"#5050d8","labelPadding":5,"tickSize":3,"tickColor":"#999999","tickWidth":1,"zindex":1}},
  "y":{"field":"q","type":"quantitative","scale":{"domain":[0,200],"range":[748,382],"nice":false,"zero":false},"axis":{"orient":"left","offset":-1033,"title":null,"values":[0,50,100,150,200],"domain":true,"domainColor":"#8a8a8a","domainWidth":1.2,"labelFont":"Liberation Sans","labelFontSize":10,"labelFontWeight":"bold","labelColor":"#5a5ad8","labelPadding":3,"tickSize":5,"tickColor":"#8a8a8a","tickWidth":1,"zindex":1}},
  "color":{"field":"s","type":"nominal","legend":null,"scale":{"range":["#c8884a","#d04040","#d8d840","#50c850","#90a060","#c83030","#407040","#505a50","#608060","#e0a040","#d05050","#c84848","#b0d040","#40b040","#80d060","#e09050","#708050","#707070","#e0d060","#d86030","#30a030","#a0a050","#c04040","#f0b060","#60c060","#4a6a4a","#c8c040","#b83838","#70b870","#d89040","#6a7a6a","#e8e070","#50d050","#d06060","#a06040","#8a9a40","#3c9c3c","#f0a050","#5a5a4a","#d0c850","#cc3a2a","#6cc46c"]}}
 }},

{"encoding":{
  "x":{"field":"p","type":"quantitative","scale":{"domain":[128.95,466.1],"range":[1043,1538],"nice":false,"zero":false},"axis":{"orient":"bottom","offset":-60,"values":[134.4,167.6,205,230.4,261,288.5,319.5,350.5,419.2,459.3],"labelExpr":"replace(toString(datum.value),'.',',')","domain":true,"domainColor":"#000000","domainWidth":3,"tickSize":4,"tickColor":"#000000","tickWidth":1,"labelFont":"Liberation Sans","labelFontSize":14,"labelColor":"#1a2430","labelPadding":2,"title":"Shakhrisabs - precipitation : January-March","titleFont":"Liberation Sans","titleFontSize":16,"titleFontStyle":"italic","titleFontWeight":"normal","titleColor":"#2a2a3a","titlePadding":2,"zindex":1}},
  "y":{"field":"q","type":"quantitative","scale":{"domain":[0,77.9],"range":[1153,807],"nice":false,"zero":false},"axis":{"orient":"left","offset":-1043,"values":[5,10,15,20,25,30,35,40,45,50,55,60,65,70,75],"domain":true,"domainColor":"#000000","domainWidth":3,"tickSize":4,"tickColor":"#000000","tickWidth":1,"labelFont":"Liberation Sans","labelFontSize":14,"labelColor":"#1a2430","labelPadding":2,"title":"Kashkadarya - Chirakchi- discharges : April-September","titleFont":"Liberation Sans","titleFontSize":12.5,"titleFontStyle":"italic","titleFontWeight":"normal","titleColor":"#2a2a3a","titlePadding":8,"zindex":1}}},
 "layer":[
  {"data":{"name":"scv"},"mark":{"type":"rule","color":"#9c7676","strokeDash":[5,4],"strokeWidth":1},"encoding":{"y":{"datum":0},"y2":{"datum":77.9}}},
  {"data":{"name":"sch"},"mark":{"type":"rule","color":"#9c7676","strokeDash":[5,4],"strokeWidth":1},"encoding":{"x":{"datum":128.95},"x2":{"datum":466.1}}},
  {"data":{"name":"reg"},"mark":{"type":"line","color":"#ff1a1a","strokeWidth":2.2}},
  {"data":{"name":"sc"},"mark":{"type":"point","filled":true,"fill":"#0c0cf2","stroke":"#000000","strokeWidth":1,"size":140,"opacity":1}}
 ]}
]
}
